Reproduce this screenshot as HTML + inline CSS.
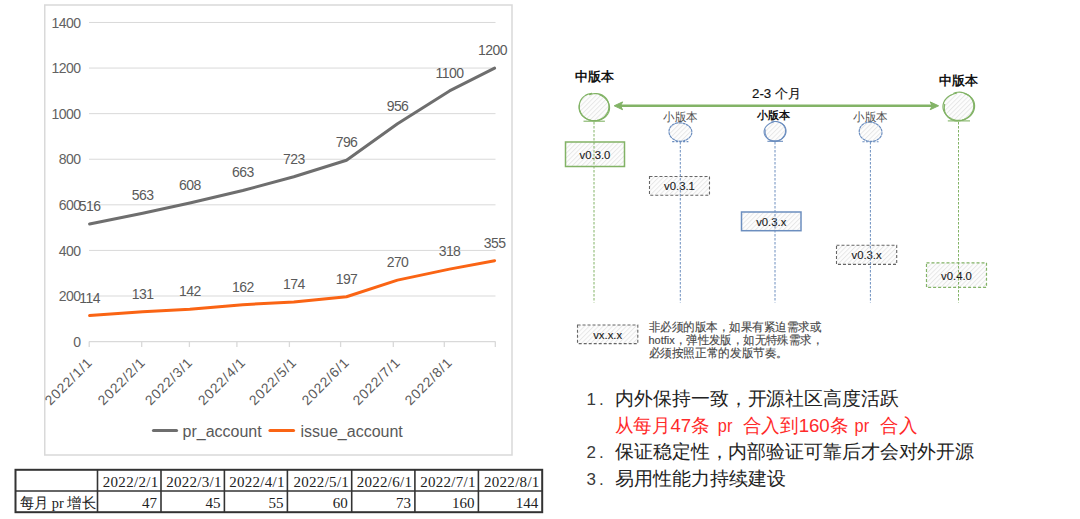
<!DOCTYPE html>
<html><head><meta charset="utf-8"><style>
html,body{margin:0;padding:0;background:#fff;width:1080px;height:519px;overflow:hidden}
svg{position:absolute;left:0;top:0;display:block}

</style></head><body>
<svg width="1080" height="519" viewBox="0 0 1080 519">
<defs><pattern id="h" width="3.3" height="3.3" patternUnits="userSpaceOnUse" patternTransform="rotate(45)"><rect width="3.3" height="3.3" fill="#fdfdfd"/><line x1="0.5" y1="0" x2="0.5" y2="3.3" stroke="#e6e6e6" stroke-width="0.9"/></pattern></defs>
<text x="575" y="81" font-family="Liberation Sans, sans-serif" font-size="12.5" font-weight="bold" fill="#111">中版本</text>
<text x="939" y="85" font-family="Liberation Sans, sans-serif" font-size="12.5" font-weight="bold" fill="#111">中版本</text>
<text x="752" y="98.2" font-family="Liberation Sans, sans-serif" font-size="13.3" fill="#111" stroke="#111" stroke-width="0.15">2-3 个月</text>
<text x="663" y="120.5" textLength="34.6" lengthAdjust="spacingAndGlyphs" font-family="Liberation Sans, sans-serif" font-size="11.7" fill="#505050">小版本</text>
<text x="757" y="118.5" font-family="Liberation Sans, sans-serif" font-size="11.3" font-weight="bold" fill="#111">小版本</text>
<text x="853" y="120.5" textLength="34.6" lengthAdjust="spacingAndGlyphs" font-family="Liberation Sans, sans-serif" font-size="11.7" fill="#505050">小版本</text>
<line x1="620" y1="105.8" x2="932" y2="105.8" stroke="#82b366" stroke-width="2.5"/>
<path d="M614.2,105.8 L622.6,101.9 L620.6,105.8 L622.6,109.7 Z" fill="#82b366" stroke="#82b366" stroke-width="1"/>
<path d="M938.6,105.8 L930.2,101.9 L932.2,105.8 L930.2,109.7 Z" fill="#82b366" stroke="#82b366" stroke-width="1"/>
<ellipse cx="594.2" cy="107.1" rx="14.4" ry="13.4" fill="url(#h)"/>
<path d="M599.11,94.51 L600.97,95.35 L602.70,96.38 L604.31,97.58 L605.78,98.96 L607.06,100.52 L608.13,102.24 L608.93,104.12 L609.41,106.11 L609.54,108.16 L609.29,110.22 L608.67,112.21 L607.69,114.07 L606.40,115.75 L604.85,117.21 L603.09,118.41 L601.19,119.37 L599.19,120.06 L597.12,120.51 L595.03,120.70 L592.93,120.64 L590.86,120.33 L588.85,119.76 L586.95,118.94 L585.17,117.88 L583.58,116.58 L582.20,115.09 L581.05,113.42 L580.17,111.61 L579.57,109.69 L579.25,107.71 L579.23,105.69 L579.52,103.69 L580.12,101.73 L581.03,99.86 L582.24,98.15 L583.74,96.63 L585.48,95.37 L587.41,94.39 L589.47,93.73 L591.61,93.39" fill="none" stroke="#82b366" stroke-width="1.20" stroke-linejoin="round" stroke-linecap="round"/>
<path d="M589.46,94.64 L591.19,94.10 L592.98,93.73 L594.82,93.54 L596.69,93.57 L598.57,93.83 L600.41,94.35 L602.18,95.12 L603.81,96.14 L605.27,97.39 L606.52,98.85 L607.52,100.46 L608.26,102.20 L608.74,104.02 L608.94,105.87 L608.89,107.71 L608.59,109.53 L608.05,111.28 L607.29,112.94 L606.33,114.49 L605.18,115.91 L603.85,117.18 L602.37,118.26 L600.76,119.16 L599.05,119.85 L597.27,120.33 L595.43,120.60 L593.58,120.65 L591.73,120.50 L589.90,120.14 L588.12,119.57 L586.41,118.80 L584.79,117.83 L583.31,116.65 L581.98,115.28 L580.87,113.74 L580.01,112.04 L579.42,110.24 L579.14,108.36 L579.16,106.47 L579.50,104.62" fill="none" stroke="#82b366" stroke-width="1.20" stroke-linejoin="round" stroke-linecap="round"/>
<line x1="583.5" x2="604.9" y1="121.2" y2="121.2" stroke="#82b366" stroke-width="1.1"/>
<ellipse cx="958.9" cy="106.6" rx="14.9" ry="13.6" fill="url(#h)"/>
<path d="M964.12,93.47 L966.22,94.13 L968.20,95.09 L970.00,96.34 L971.57,97.86 L972.84,99.60 L973.78,101.51 L974.36,103.53 L974.59,105.60 L974.48,107.66 L974.05,109.67 L973.32,111.60 L972.31,113.41 L971.05,115.06 L969.57,116.54 L967.88,117.81 L966.02,118.85 L964.01,119.64 L961.91,120.16 L959.76,120.41 L957.58,120.37 L955.44,120.07 L953.35,119.51 L951.35,118.69 L949.48,117.64 L947.76,116.37 L946.23,114.87 L944.94,113.18 L943.94,111.32 L943.26,109.32 L942.96,107.24 L943.04,105.14 L943.51,103.09 L944.34,101.15 L945.50,99.37 L946.93,97.80 L948.57,96.46 L950.37,95.34 L952.28,94.45 L954.28,93.76 L956.34,93.29" fill="none" stroke="#82b366" stroke-width="1.20" stroke-linejoin="round" stroke-linecap="round"/>
<path d="M953.73,93.26 L955.60,92.63 L957.56,92.26 L959.57,92.16 L961.58,92.34 L963.54,92.79 L965.41,93.49 L967.16,94.43 L968.75,95.58 L970.16,96.91 L971.37,98.40 L972.35,100.03 L973.09,101.75 L973.58,103.54 L973.80,105.38 L973.76,107.21 L973.46,109.01 L972.91,110.75 L972.14,112.40 L971.17,113.94 L970.02,115.36 L968.71,116.65 L967.25,117.80 L965.66,118.79 L963.95,119.63 L962.13,120.28 L960.22,120.72 L958.23,120.93 L956.22,120.88 L954.22,120.55 L952.28,119.94 L950.46,119.04 L948.82,117.88 L947.40,116.49 L946.24,114.93 L945.35,113.22 L944.73,111.44 L944.38,109.62 L944.27,107.80 L944.39,106.00 L944.70,104.25" fill="none" stroke="#82b366" stroke-width="1.20" stroke-linejoin="round" stroke-linecap="round"/>
<line x1="947.8" x2="970.0" y1="120.9" y2="120.9" stroke="#82b366" stroke-width="1.1"/>
<ellipse cx="680.3" cy="132" rx="10.7" ry="8.9" fill="url(#h)"/>
<path d="M679.34,122.83 L681.11,122.91 L682.84,123.19 L684.50,123.66 L686.08,124.30 L687.56,125.12 L688.90,126.12 L690.05,127.30 L690.96,128.64 L691.57,130.11 L691.84,131.66 L691.76,133.23 L691.34,134.76 L690.59,136.19 L689.56,137.48 L688.31,138.61 L686.88,139.54 L685.31,140.29 L683.64,140.82 L681.89,141.15 L680.11,141.25 L678.33,141.11 L676.59,140.74 L674.95,140.14 L673.44,139.31 L672.12,138.29 L670.99,137.11 L670.10,135.79 L669.46,134.37 L669.08,132.87 L668.98,131.34 L669.19,129.79 L669.70,128.30 L670.53,126.90 L671.65,125.65 L673.02,124.59 L674.60,123.78 L676.30,123.21 L678.07,122.90 L679.86,122.83 L681.62,122.97" fill="none" stroke="#6c8ebf" stroke-width="1.2" stroke-linejoin="round" stroke-linecap="round" stroke-dasharray="2.2,1.4"/>
<line x1="672.2" x2="688.4" y1="141.6" y2="141.6" stroke="#6c8ebf" stroke-width="1.1" stroke-dasharray="2.2,1.4"/>
<ellipse cx="775.2" cy="131.4" rx="10.3" ry="9.2" fill="url(#h)"/>
<path d="M778.94,122.16 L780.42,122.67 L781.80,123.39 L783.03,124.31 L784.08,125.39 L784.91,126.61 L785.53,127.93 L785.91,129.31 L786.07,130.72 L786.01,132.12 L785.73,133.50 L785.25,134.82 L784.57,136.06 L783.70,137.21 L782.67,138.22 L781.48,139.09 L780.17,139.80 L778.77,140.34 L777.31,140.69 L775.80,140.87 L774.28,140.87 L772.76,140.70 L771.28,140.35 L769.84,139.82 L768.49,139.12 L767.24,138.24 L766.16,137.19 L765.26,136.00 L764.60,134.68 L764.20,133.28 L764.07,131.84 L764.21,130.41 L764.61,129.03 L765.23,127.74 L766.04,126.56 L767.01,125.50 L768.10,124.56 L769.30,123.76 L770.58,123.07 L771.94,122.52 L773.38,122.11" fill="none" stroke="#6c8ebf" stroke-width="1.04" stroke-linejoin="round" stroke-linecap="round"/>
<path d="M771.53,122.12 L772.87,121.72 L774.26,121.51 L775.67,121.47 L777.07,121.62 L778.44,121.94 L779.74,122.42 L780.97,123.06 L782.08,123.85 L783.07,124.76 L783.90,125.79 L784.58,126.90 L785.08,128.09 L785.39,129.32 L785.53,130.57 L785.48,131.81 L785.27,133.04 L784.91,134.22 L784.40,135.35 L783.76,136.42 L783.00,137.43 L782.13,138.36 L781.14,139.21 L780.03,139.95 L778.83,140.57 L777.52,141.05 L776.15,141.36 L774.72,141.47 L773.29,141.38 L771.89,141.08 L770.55,140.58 L769.33,139.89 L768.24,139.04 L767.31,138.06 L766.55,136.98 L765.96,135.83 L765.53,134.64 L765.25,133.43 L765.11,132.21 L765.11,130.99 L765.25,129.78" fill="none" stroke="#6c8ebf" stroke-width="1.04" stroke-linejoin="round" stroke-linecap="round"/>
<line x1="767.4" x2="783.0" y1="141.3" y2="141.3" stroke="#6c8ebf" stroke-width="1.1"/>
<ellipse cx="870.5" cy="131.8" rx="10.8" ry="9.2" fill="url(#h)"/>
<path d="M869.51,122.06 L871.34,122.15 L873.12,122.51 L874.79,123.09 L876.33,123.86 L877.72,124.80 L878.96,125.88 L880.03,127.09 L880.91,128.44 L881.56,129.90 L881.92,131.46 L881.97,133.06 L881.67,134.66 L881.02,136.18 L880.04,137.57 L878.77,138.78 L877.29,139.76 L875.65,140.51 L873.90,141.01 L872.11,141.28 L870.31,141.33 L868.52,141.15 L866.79,140.75 L865.14,140.14 L863.61,139.31 L862.26,138.28 L861.12,137.07 L860.23,135.71 L859.60,134.24 L859.26,132.70 L859.21,131.12 L859.44,129.56 L859.96,128.03 L860.76,126.59 L861.83,125.28 L863.15,124.14 L864.68,123.22 L866.38,122.55 L868.19,122.16 L870.04,122.06 L871.87,122.23" fill="none" stroke="#6c8ebf" stroke-width="1.2" stroke-linejoin="round" stroke-linecap="round" stroke-dasharray="2.2,1.4"/>
<line x1="862.4" x2="878.6" y1="141.7" y2="141.7" stroke="#6c8ebf" stroke-width="1.1" stroke-dasharray="2.2,1.4"/>
<rect x="565.5" y="142" width="59.0" height="24.5" fill="url(#h)" stroke="#82b366" stroke-width="1.5"/>
<text x="595.0" y="158.75" text-anchor="middle" font-family="Liberation Sans, sans-serif" font-size="11.3" fill="#1a1a1a" stroke="#1a1a1a" stroke-width="0.12">v0.3.0</text>
<rect x="649.5" y="176.5" width="60.0" height="18.80000000000001" fill="url(#h)" stroke="#666" stroke-width="1.1" stroke-dasharray="3,2"/>
<text x="679.5" y="190.4" text-anchor="middle" font-family="Liberation Sans, sans-serif" font-size="11.3" fill="#1a1a1a" stroke="#1a1a1a" stroke-width="0.12">v0.3.1</text>
<rect x="741.5" y="212" width="59.5" height="18.69999999999999" fill="url(#h)" stroke="#6c8ebf" stroke-width="1.5"/>
<text x="771.25" y="225.85" text-anchor="middle" font-family="Liberation Sans, sans-serif" font-size="11.3" fill="#1a1a1a" stroke="#1a1a1a" stroke-width="0.12">v0.3.x</text>
<rect x="836.5" y="245.3" width="60.200000000000045" height="19.099999999999966" fill="url(#h)" stroke="#666" stroke-width="1.1" stroke-dasharray="3,2"/>
<text x="866.6" y="259.35" text-anchor="middle" font-family="Liberation Sans, sans-serif" font-size="11.3" fill="#1a1a1a" stroke="#1a1a1a" stroke-width="0.12">v0.3.x</text>
<rect x="926.5" y="262.8" width="60.0" height="24.599999999999966" fill="url(#h)" stroke="#82b366" stroke-width="1.2" stroke-dasharray="3,2"/>
<text x="956.5" y="279.6" text-anchor="middle" font-family="Liberation Sans, sans-serif" font-size="11.3" fill="#1a1a1a" stroke="#1a1a1a" stroke-width="0.12">v0.4.0</text>
<rect x="577.5" y="325" width="60.299999999999955" height="18.600000000000023" fill="url(#h)" stroke="#666" stroke-width="1.1" stroke-dasharray="3,2"/>
<text x="607.65" y="338.8" text-anchor="middle" font-family="Liberation Sans, sans-serif" font-size="11.3" fill="#1a1a1a" stroke="#1a1a1a" stroke-width="0.12">vx.x.x</text>
<line x1="594" x2="594" y1="122" y2="302.5" stroke="#82b366" stroke-width="1" stroke-dasharray="2.5,1.5"/>
<line x1="680.3" x2="680.3" y1="142" y2="302.5" stroke="#6c8ebf" stroke-width="1" stroke-dasharray="2.5,1.5"/>
<line x1="775" x2="775" y1="142" y2="302.5" stroke="#6c8ebf" stroke-width="1" stroke-dasharray="2.5,1.5"/>
<line x1="870.4" x2="870.4" y1="142" y2="302.5" stroke="#6c8ebf" stroke-width="1" stroke-dasharray="2.5,1.5"/>
<line x1="958.5" x2="958.5" y1="122" y2="302.5" stroke="#82b366" stroke-width="1" stroke-dasharray="2.5,1.5"/>
<text x="648.5" y="330.5" textLength="173" lengthAdjust="spacingAndGlyphs" font-family="Liberation Sans, sans-serif" font-size="11.5" fill="#484848" stroke="#484848" stroke-width="0.15">非必须的版本，如果有紧迫需求或</text>
<text x="648.5" y="343.8" textLength="174.7" lengthAdjust="spacingAndGlyphs" font-family="Liberation Sans, sans-serif" font-size="11.5" fill="#484848" stroke="#484848" stroke-width="0.15">hotfix，弹性发版，如无特殊需求，</text>
<text x="648.5" y="357.1" textLength="139.6" lengthAdjust="spacingAndGlyphs" font-family="Liberation Sans, sans-serif" font-size="11.5" fill="#484848" stroke="#484848" stroke-width="0.15">必须按照正常的发版节奏。</text>
<text x="586.5" y="404.8" font-family="Liberation Sans, sans-serif" font-size="17" letter-spacing="3" fill="#3a3a3a">1.</text>
<text x="615.3" y="404.5" textLength="283.3" lengthAdjust="spacingAndGlyphs" font-family="Liberation Sans, sans-serif" font-size="19" fill="#222">内外保持一致，开源社区高度活跃</text>
<text x="614.8" y="432" textLength="95" lengthAdjust="spacingAndGlyphs" font-family="Liberation Sans, sans-serif" font-size="19" fill="#ff2a2a">从每月47条</text>
<text x="717.8" y="432" textLength="14.6" lengthAdjust="spacingAndGlyphs" font-family="Liberation Sans, sans-serif" font-size="19" fill="#ff2a2a">pr</text>
<text x="742.8" y="432" textLength="105.5" lengthAdjust="spacingAndGlyphs" font-family="Liberation Sans, sans-serif" font-size="19" fill="#ff2a2a">合入到160条</text>
<text x="854.5" y="432" textLength="14.6" lengthAdjust="spacingAndGlyphs" font-family="Liberation Sans, sans-serif" font-size="19" fill="#ff2a2a">pr</text>
<text x="880.2" y="432" textLength="37" lengthAdjust="spacingAndGlyphs" font-family="Liberation Sans, sans-serif" font-size="19" fill="#ff2a2a">合入</text>
<text x="586.5" y="458.3" font-family="Liberation Sans, sans-serif" font-size="17" letter-spacing="3" fill="#3a3a3a">2.</text>
<text x="615" y="458" textLength="359.2" lengthAdjust="spacingAndGlyphs" font-family="Liberation Sans, sans-serif" font-size="19" fill="#222">保证稳定性，内部验证可靠后才会对外开源</text>
<text x="586.5" y="485.3" font-family="Liberation Sans, sans-serif" font-size="17" letter-spacing="3" fill="#3a3a3a">3.</text>
<text x="615" y="485" font-family="Liberation Sans, sans-serif" font-size="19" fill="#222">易用性能力持续建设</text>
<rect x="44.75" y="5" width="467.25" height="450" fill="#fff" stroke="#d9d9d9" stroke-width="1.5"/>
<line x1="89" x2="495.5" y1="296.01" y2="296.01" stroke="#d9d9d9" stroke-width="1"/>
<line x1="89" x2="495.5" y1="250.42" y2="250.42" stroke="#d9d9d9" stroke-width="1"/>
<line x1="89" x2="495.5" y1="204.83" y2="204.83" stroke="#d9d9d9" stroke-width="1"/>
<line x1="89" x2="495.5" y1="159.24" y2="159.24" stroke="#d9d9d9" stroke-width="1"/>
<line x1="89" x2="495.5" y1="113.65" y2="113.65" stroke="#d9d9d9" stroke-width="1"/>
<line x1="89" x2="495.5" y1="68.06" y2="68.06" stroke="#d9d9d9" stroke-width="1"/>
<line x1="89" x2="495.5" y1="22.47" y2="22.47" stroke="#d9d9d9" stroke-width="1"/>
<line x1="89" x2="495.5" y1="341.6" y2="341.6" stroke="#d9d9d9" stroke-width="1.3"/>
<line x1="89.2" x2="89.2" y1="341.6" y2="347" stroke="#d9d9d9" stroke-width="1.3"/>
<line x1="141.7" x2="141.7" y1="341.6" y2="347" stroke="#d9d9d9" stroke-width="1.3"/>
<line x1="189.4" x2="189.4" y1="341.6" y2="347" stroke="#d9d9d9" stroke-width="1.3"/>
<line x1="236.9" x2="236.9" y1="341.6" y2="347" stroke="#d9d9d9" stroke-width="1.3"/>
<line x1="289.4" x2="289.4" y1="341.6" y2="347" stroke="#d9d9d9" stroke-width="1.3"/>
<line x1="340.6" x2="340.6" y1="341.6" y2="347" stroke="#d9d9d9" stroke-width="1.3"/>
<line x1="393.3" x2="393.3" y1="341.6" y2="347" stroke="#d9d9d9" stroke-width="1.3"/>
<line x1="444.3" x2="444.3" y1="341.6" y2="347" stroke="#d9d9d9" stroke-width="1.3"/>
<line x1="495.3" x2="495.3" y1="341.6" y2="347" stroke="#d9d9d9" stroke-width="1.3"/>
<text x="80.5" y="346.7" text-anchor="end" font-family="Liberation Sans, sans-serif" font-size="14" letter-spacing="-0.55" fill="#626262">0</text>
<text x="80.5" y="301.1" text-anchor="end" font-family="Liberation Sans, sans-serif" font-size="14" letter-spacing="-0.55" fill="#626262">200</text>
<text x="80.5" y="255.5" text-anchor="end" font-family="Liberation Sans, sans-serif" font-size="14" letter-spacing="-0.55" fill="#626262">400</text>
<text x="80.5" y="209.9" text-anchor="end" font-family="Liberation Sans, sans-serif" font-size="14" letter-spacing="-0.55" fill="#626262">600</text>
<text x="80.5" y="164.3" text-anchor="end" font-family="Liberation Sans, sans-serif" font-size="14" letter-spacing="-0.55" fill="#626262">800</text>
<text x="80.5" y="118.8" text-anchor="end" font-family="Liberation Sans, sans-serif" font-size="14" letter-spacing="-0.55" fill="#626262">1000</text>
<text x="80.5" y="73.2" text-anchor="end" font-family="Liberation Sans, sans-serif" font-size="14" letter-spacing="-0.55" fill="#626262">1200</text>
<text x="80.5" y="27.6" text-anchor="end" font-family="Liberation Sans, sans-serif" font-size="14" letter-spacing="-0.55" fill="#626262">1400</text>
<polyline points="89.6,224.0 142.7,213.3 189.8,203.0 242.8,190.5 293.8,176.8 346.5,160.2 397.5,123.7 449.5,90.9 494.6,68.1" fill="none" stroke="#6e6e6e" stroke-width="3" stroke-linejoin="round" stroke-linecap="round"/>
<polyline points="89.6,315.6 142.7,311.7 189.8,309.2 242.8,304.7 293.8,301.9 346.5,296.7 397.5,280.1 449.5,269.1 494.6,260.7" fill="none" stroke="#fa6414" stroke-width="3" stroke-linejoin="round" stroke-linecap="round"/>
<text x="89.6" y="210.9" text-anchor="middle" font-family="Liberation Sans, sans-serif" font-size="14" letter-spacing="-0.55" fill="#5a5a5a">516</text>
<text x="142.7" y="200.2" text-anchor="middle" font-family="Liberation Sans, sans-serif" font-size="14" letter-spacing="-0.55" fill="#5a5a5a">563</text>
<text x="189.8" y="189.9" text-anchor="middle" font-family="Liberation Sans, sans-serif" font-size="14" letter-spacing="-0.55" fill="#5a5a5a">608</text>
<text x="242.8" y="177.4" text-anchor="middle" font-family="Liberation Sans, sans-serif" font-size="14" letter-spacing="-0.55" fill="#5a5a5a">663</text>
<text x="293.8" y="163.7" text-anchor="middle" font-family="Liberation Sans, sans-serif" font-size="14" letter-spacing="-0.55" fill="#5a5a5a">723</text>
<text x="346.5" y="147.1" text-anchor="middle" font-family="Liberation Sans, sans-serif" font-size="14" letter-spacing="-0.55" fill="#5a5a5a">796</text>
<text x="397.5" y="110.6" text-anchor="middle" font-family="Liberation Sans, sans-serif" font-size="14" letter-spacing="-0.55" fill="#5a5a5a">956</text>
<text x="449.5" y="77.8" text-anchor="middle" font-family="Liberation Sans, sans-serif" font-size="14" letter-spacing="-0.55" fill="#5a5a5a">1100</text>
<text x="492.6" y="55.0" text-anchor="middle" font-family="Liberation Sans, sans-serif" font-size="14" letter-spacing="-0.55" fill="#5a5a5a">1200</text>
<text x="89.6" y="302.5" text-anchor="middle" font-family="Liberation Sans, sans-serif" font-size="14" letter-spacing="-0.55" fill="#5a5a5a">114</text>
<text x="142.7" y="298.6" text-anchor="middle" font-family="Liberation Sans, sans-serif" font-size="14" letter-spacing="-0.55" fill="#5a5a5a">131</text>
<text x="189.8" y="296.1" text-anchor="middle" font-family="Liberation Sans, sans-serif" font-size="14" letter-spacing="-0.55" fill="#5a5a5a">142</text>
<text x="242.8" y="291.6" text-anchor="middle" font-family="Liberation Sans, sans-serif" font-size="14" letter-spacing="-0.55" fill="#5a5a5a">162</text>
<text x="293.8" y="288.8" text-anchor="middle" font-family="Liberation Sans, sans-serif" font-size="14" letter-spacing="-0.55" fill="#5a5a5a">174</text>
<text x="346.5" y="283.6" text-anchor="middle" font-family="Liberation Sans, sans-serif" font-size="14" letter-spacing="-0.55" fill="#5a5a5a">197</text>
<text x="397.5" y="267.0" text-anchor="middle" font-family="Liberation Sans, sans-serif" font-size="14" letter-spacing="-0.55" fill="#5a5a5a">270</text>
<text x="449.5" y="256.0" text-anchor="middle" font-family="Liberation Sans, sans-serif" font-size="14" letter-spacing="-0.55" fill="#5a5a5a">318</text>
<text x="494.6" y="247.6" text-anchor="middle" font-family="Liberation Sans, sans-serif" font-size="14" letter-spacing="-0.55" fill="#5a5a5a">355</text>
<text transform="translate(93.3,363.2) rotate(-45)" text-anchor="end" font-family="Liberation Sans, sans-serif" font-size="13.8" letter-spacing="0.85" fill="#595959">2022/1/1</text>
<text transform="translate(146.4,363.2) rotate(-45)" text-anchor="end" font-family="Liberation Sans, sans-serif" font-size="13.8" letter-spacing="0.85" fill="#595959">2022/2/1</text>
<text transform="translate(193.5,363.2) rotate(-45)" text-anchor="end" font-family="Liberation Sans, sans-serif" font-size="13.8" letter-spacing="0.85" fill="#595959">2022/3/1</text>
<text transform="translate(246.5,363.2) rotate(-45)" text-anchor="end" font-family="Liberation Sans, sans-serif" font-size="13.8" letter-spacing="0.85" fill="#595959">2022/4/1</text>
<text transform="translate(297.5,363.2) rotate(-45)" text-anchor="end" font-family="Liberation Sans, sans-serif" font-size="13.8" letter-spacing="0.85" fill="#595959">2022/5/1</text>
<text transform="translate(350.2,363.2) rotate(-45)" text-anchor="end" font-family="Liberation Sans, sans-serif" font-size="13.8" letter-spacing="0.85" fill="#595959">2022/6/1</text>
<text transform="translate(401.2,363.2) rotate(-45)" text-anchor="end" font-family="Liberation Sans, sans-serif" font-size="13.8" letter-spacing="0.85" fill="#595959">2022/7/1</text>
<text transform="translate(453.2,363.2) rotate(-45)" text-anchor="end" font-family="Liberation Sans, sans-serif" font-size="13.8" letter-spacing="0.85" fill="#595959">2022/8/1</text>
<line x1="153.5" x2="176.5" y1="430.5" y2="430.5" stroke="#6e6e6e" stroke-width="3.2" stroke-linecap="round"/>
<text x="182.5" y="436.5" font-family="Liberation Sans, sans-serif" font-size="16" fill="#595959">pr_account</text>
<line x1="270" x2="293.5" y1="430.5" y2="430.5" stroke="#fa6414" stroke-width="3.2" stroke-linecap="round"/>
<text x="300.5" y="436.5" font-family="Liberation Sans, sans-serif" font-size="16" fill="#595959">issue_account</text>
<rect x="15.5" y="469.8" width="526.7" height="42.4" fill="none" stroke="#333" stroke-width="2"/>
<line x1="15.5" x2="542.2" y1="491" y2="491" stroke="#333" stroke-width="1.6"/>
<line x1="97.5" x2="97.5" y1="469.8" y2="512.2" stroke="#333" stroke-width="1.6"/>
<line x1="161" x2="161" y1="469.8" y2="512.2" stroke="#333" stroke-width="1.6"/>
<line x1="224.4" x2="224.4" y1="469.8" y2="512.2" stroke="#333" stroke-width="1.6"/>
<line x1="287.4" x2="287.4" y1="469.8" y2="512.2" stroke="#333" stroke-width="1.6"/>
<line x1="351.7" x2="351.7" y1="469.8" y2="512.2" stroke="#333" stroke-width="1.6"/>
<line x1="414.9" x2="414.9" y1="469.8" y2="512.2" stroke="#333" stroke-width="1.6"/>
<line x1="478.4" x2="478.4" y1="469.8" y2="512.2" stroke="#333" stroke-width="1.6"/>
<text x="158.5" y="486.6" text-anchor="end" font-family="Liberation Serif, serif" font-size="15" letter-spacing="0.3" fill="#222">2022/2/1</text>
<text x="157" y="507.5" text-anchor="end" font-family="Liberation Serif, serif" font-size="15" fill="#222">47</text>
<text x="221.9" y="486.6" text-anchor="end" font-family="Liberation Serif, serif" font-size="15" letter-spacing="0.3" fill="#222">2022/3/1</text>
<text x="220.4" y="507.5" text-anchor="end" font-family="Liberation Serif, serif" font-size="15" fill="#222">45</text>
<text x="284.9" y="486.6" text-anchor="end" font-family="Liberation Serif, serif" font-size="15" letter-spacing="0.3" fill="#222">2022/4/1</text>
<text x="283.4" y="507.5" text-anchor="end" font-family="Liberation Serif, serif" font-size="15" fill="#222">55</text>
<text x="349.2" y="486.6" text-anchor="end" font-family="Liberation Serif, serif" font-size="15" letter-spacing="0.3" fill="#222">2022/5/1</text>
<text x="347.7" y="507.5" text-anchor="end" font-family="Liberation Serif, serif" font-size="15" fill="#222">60</text>
<text x="412.4" y="486.6" text-anchor="end" font-family="Liberation Serif, serif" font-size="15" letter-spacing="0.3" fill="#222">2022/6/1</text>
<text x="410.9" y="507.5" text-anchor="end" font-family="Liberation Serif, serif" font-size="15" fill="#222">73</text>
<text x="475.9" y="486.6" text-anchor="end" font-family="Liberation Serif, serif" font-size="15" letter-spacing="0.3" fill="#222">2022/7/1</text>
<text x="474.4" y="507.5" text-anchor="end" font-family="Liberation Serif, serif" font-size="15" fill="#222">160</text>
<text x="539.7" y="486.6" text-anchor="end" font-family="Liberation Serif, serif" font-size="15" letter-spacing="0.3" fill="#222">2022/8/1</text>
<text x="538.2" y="507.5" text-anchor="end" font-family="Liberation Serif, serif" font-size="15" fill="#222">144</text>
<text x="19.5" y="508" textLength="76.5" lengthAdjust="spacingAndGlyphs" font-family="Liberation Serif, serif" font-size="15" fill="#222">每月 pr 增长</text>
</svg>
</body></html>
